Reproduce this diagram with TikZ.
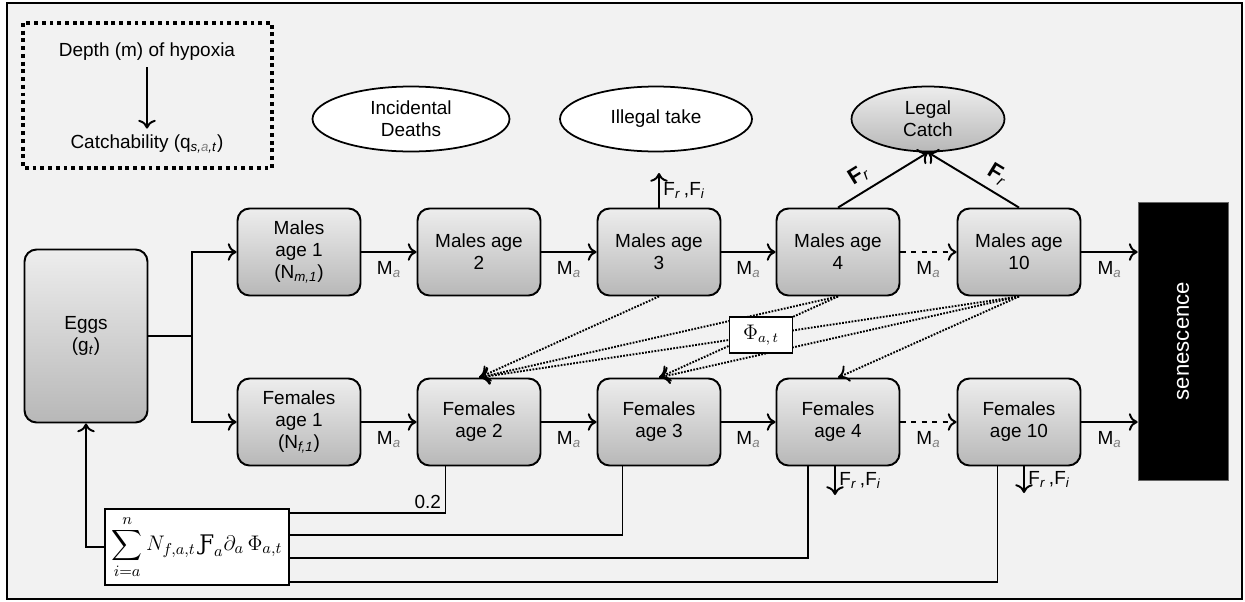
\documentclass[tikz,border=0pt]{standalone}
\usepackage{fontspec}
\usepackage{amssymb}
\setmainfont{Liberation Sans}
\newfontfamily\hookfont{DejaVu Serif}
\usetikzlibrary{arrows.meta,positioning,shapes.geometric}

\newcommand{\Ma}{M\textsubscript{\textcolor{gray}{\textit{a}}}}
\newcommand{\Fri}{F\textsubscript{\textit{r}}\,,F\textsubscript{\textit{i}}}
\newcommand{\Fr}{\fontsize{12.5}{14}\selectfont\textbf{F}\textsubscript{\textit{r}}}

\begin{document}
\begin{tikzpicture}
	[x=0.02cm,y=-0.02cm,font=\fontsize{10.8}{12.6}\selectfont,
	agebox/.style={draw,line width=1.1pt,rounded corners=0.24cm,top color=black!7,bottom color=black!28,minimum width=2.46cm,minimum height=1.74cm,align=center,inner sep=2pt},
	outcome/.style={ellipse,draw,line width=1pt,fill=white,align=center,minimum height=1.3cm,inner sep=1pt},
	flow/.style={line width=1.1pt,-{To[length=5pt,width=10pt]}},
	mate/.style={line width=1.1pt,dash pattern=on 1pt off 0.8pt,-{To[length=6pt,width=10pt]}},
	feed/.style={line width=1.1pt},
	lab/.style={inner sep=2pt}]

	% frame
	\fill[white] (0,0) rectangle (1245,602);
	\draw[line width=1.6pt,fill=black!5] (7,3) rectangle (1242,599);

	% legend
	\draw[line width=2pt,dash pattern=on 2.2pt off 2.2pt] (23,23) rectangle (272,168);
	\node (depth) at (147,52) {Depth (m) of hypoxia};
	\node (catchq) at (147,144) {Catchability (q\textsubscript{\textit{s,\textcolor{gray}{a},t}})};
	\draw[flow] (depth) -- (catchq);

	% outcomes
	\node[outcome,minimum width=3.94cm] (incid) at (411,119) {Incidental\\Deaths};
	\node[outcome,minimum width=3.84cm] (illegal) at (656,119) {Illegal take};
	\node[outcome,minimum width=3.06cm,top color=black!7,bottom color=black!28] (legal) at (928,119) {Legal\\Catch};

	% stages
	\node[agebox,minimum height=3.46cm] (eggs) at (86,336) {Eggs\\(g\textsubscript{\textit{t}})};
	\node[agebox] (m1) at (299,252) {Males\\age 1\\(N\textsubscript{\textit{m,1}})};
	\node[agebox] (m2) at (479,252) {Males age\\2};
	\node[agebox] (m3) at (659,252) {Males age\\3};
	\node[agebox] (m4) at (838,252) {Males age\\4};
	\node[agebox] (m10) at (1019,252) {Males age\\10};
	\node[agebox] (f1) at (299,422) {Females\\age 1\\(N\textsubscript{\textit{f,1}})};
	\node[agebox] (f2) at (479,422) {Females\\age 2};
	\node[agebox] (f3) at (659,422) {Females\\age 3};
	\node[agebox] (f4) at (838,422) {Females\\age 4};
	\node[agebox] (f10) at (1019,422) {Females\\age 10};
	\node[fill=black,draw=black!60,minimum width=1.8cm,minimum height=5.56cm,text=white,font=\fontsize{12.6}{15}\selectfont] (sen) at (1183,341) {\rotatebox{90}{senescence}};

	% eggs to age 1
	\draw[feed] (eggs.east) -- ++(44,0) coordinate (split);
	\draw[flow] (split) |- (m1);
	\draw[flow] (split) |- (f1);

	% ageing
	\draw[flow] (m1) -- node[lab,below=3pt]{\Ma} (m2);
	\draw[flow] (m2) -- node[lab,below=3pt]{\Ma} (m3);
	\draw[flow] (m3) -- node[lab,below=3pt]{\Ma} (m4);
	\draw[flow,dashed] (m4) -- node[lab,below=3pt]{\Ma} (m10);
	\draw[flow] (m10) -- node[lab,below=3pt]{\Ma} (m10 -| sen.west);
	\draw[flow] (f1) -- node[lab,below=3pt]{\Ma} (f2);
	\draw[flow] (f2) -- node[lab,below=3pt]{\Ma} (f3);
	\draw[flow] (f3) -- node[lab,below=3pt]{\Ma} (f4);
	\draw[flow,dashed] (f4) -- node[lab,below=3pt]{\Ma} (f10);
	\draw[flow] (f10) -- node[lab,below=3pt]{\Ma} (f10 -| sen.west);

	% mating
	\draw[mate] (m3.south) -- (f2.north);
	\draw[mate] (m4.south) -- (f2.north);
	\draw[mate] (m10.south) -- (f2.north);
	\draw[mate] (m4.south) -- (f3.north);
	\draw[mate] (m10.south) -- (f3.north);
	\draw[mate] (m10.south) -- (f4.north);
	\node[draw,fill=white,line width=0.9pt,minimum width=1.26cm,minimum height=0.72cm,font=\large] (phi) at (761,335) {$\Phi_{a,\,t}$};

	% fishing
	\coordinate (m3up) at (659,173);
	\coordinate (f4down) at (835,495);
	\coordinate (f10down) at (1024,493);
	\draw[flow] (m3) -- node[lab,right]{\Fri} (m3up);
	\draw[flow] (f4.south -| f4down) -- node[lab,right]{\Fri} (f4down);
	\draw[flow] (f10.south -| f10down) -- node[lab,right]{\Fri} (f10down);
	\draw[flow] (m4.north) -- node[lab,sloped,above=2pt,pos=0.33]{\Fr} (legal.south);
	\draw[flow] (m10.north) -- node[lab,sloped,above=2pt,pos=0.33]{\Fr} (legal.south);

	% recruitment
	\node[draw,fill=white,line width=1pt,minimum width=3.68cm,minimum height=1.52cm,inner sep=1pt,font=\fontsize{12.2}{14}\selectfont] (sum) at (197,547)
		{$\displaystyle\sum_{i=a}^{n} N_{f,a,t}\,\mbox{\hookfont Ƒ}_a\partial_a\,\Phi_{a,t}$};
	\draw[flow] (sum.west) -| (eggs.south);
	\draw[feed] ([xshift=-0.67cm]f2.south) |- node[lab,pos=0.5,above left]{0.2} ([yshift=0.68cm]sum.east);
	\draw[feed] ([xshift=-0.73cm]f3.south) |- ([yshift=0.24cm]sum.east);
	\draw[feed] ([xshift=-0.6cm]f4.south) |- ([yshift=-0.22cm]sum.east);
	\draw[feed] ([xshift=-0.43cm]f10.south) |- ([yshift=-0.7cm]sum.east);

\end{tikzpicture}
\end{document}
